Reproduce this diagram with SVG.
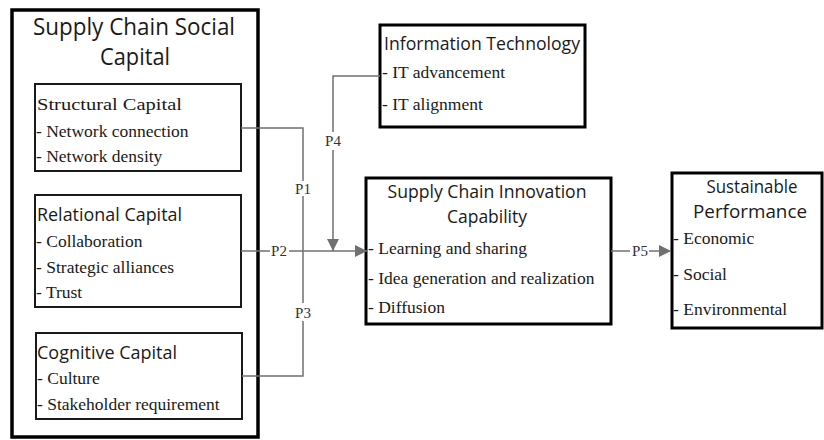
<svg xmlns="http://www.w3.org/2000/svg" width="824" height="440" viewBox="0 0 824 440">
<defs>
<style>
.outer{fill:#fff;stroke:#000;stroke-width:3.5}
.box{fill:#fff;stroke:#1a1a1a;stroke-width:2}
.bbox{fill:#fff;stroke:#000;stroke-width:3}
.sans{font-family:"Open Sans","Noto Sans",sans-serif;fill:#1a1a1a}
.serif{font-family:"Liberation Serif","Times New Roman",serif;fill:#1a1a1a;font-size:17.5px}
.h{font-size:18px}
.lbl{font-family:"Liberation Serif","Times New Roman",serif;fill:#333;font-size:15px;text-anchor:middle}
.ln{fill:none;stroke:#707070;stroke-width:1.5}
</style>
<marker id="arr" markerUnits="userSpaceOnUse" markerWidth="14" markerHeight="12" refX="12" refY="6" orient="auto">
<path d="M0,0 L12,6 L0,12 Z" fill="#707070"/>
</marker>
</defs>
<rect width="824" height="440" fill="#fff"/>

<g id="supply-chain-social-capital">
<rect class="outer" x="12" y="10" width="246" height="427"/>
<text class="sans" x="134" y="35" font-size="23.5" text-anchor="middle" textLength="202" lengthAdjust="spacingAndGlyphs">Supply Chain Social</text>
<text class="sans" x="135" y="65" font-size="23.5" text-anchor="middle" textLength="70" lengthAdjust="spacingAndGlyphs">Capital</text>
</g>

<g id="structural-capital">
<rect class="box" x="35" y="84" width="206" height="87"/>
<text class="serif" x="37" y="110" font-size="20.5" textLength="145" lengthAdjust="spacingAndGlyphs">Structural Capital</text>
<text class="serif" x="36" y="137">- Network connection</text>
<text class="serif" x="36" y="162">- Network density</text>
</g>

<g id="relational-capital">
<rect class="box" x="35" y="195" width="206" height="112"/>
<text class="sans h" x="37" y="221" textLength="145" lengthAdjust="spacingAndGlyphs">Relational Capital</text>
<text class="serif" x="36" y="247">- Collaboration</text>
<text class="serif" x="36" y="273">- Strategic alliances</text>
<text class="serif" x="36" y="298">- Trust</text>
</g>

<g id="cognitive-capital">
<rect class="box" x="36" y="333" width="206" height="86"/>
<text class="sans h" x="37" y="359" textLength="140" lengthAdjust="spacingAndGlyphs">Cognitive Capital</text>
<text class="serif" x="37" y="384">- Culture</text>
<text class="serif" x="37" y="410">- Stakeholder requirement</text>
</g>

<g id="information-technology">
<rect class="bbox" x="380" y="25" width="205" height="102"/>
<text class="sans h" x="384" y="50" textLength="196" lengthAdjust="spacingAndGlyphs">Information Technology</text>
<text class="serif" x="382" y="78">- IT advancement</text>
<text class="serif" x="382" y="110">- IT alignment</text>
</g>

<g id="supply-chain-innovation-capability">
<rect class="bbox" x="366" y="178" width="245" height="146"/>
<text class="sans h" x="487" y="198" text-anchor="middle" textLength="199" lengthAdjust="spacingAndGlyphs">Supply Chain Innovation</text>
<text class="sans h" x="487" y="223" text-anchor="middle" textLength="80" lengthAdjust="spacingAndGlyphs">Capability</text>
<text class="serif" x="368" y="254">- Learning and sharing</text>
<text class="serif" x="368" y="284">- Idea generation and realization</text>
<text class="serif" x="368" y="313">- Diffusion</text>
</g>

<g id="sustainable-performance">
<rect class="bbox" x="672" y="173" width="150" height="155"/>
<text class="sans h" x="752" y="193" text-anchor="middle" textLength="91" lengthAdjust="spacingAndGlyphs">Sustainable</text>
<text class="sans h" x="750" y="218" text-anchor="middle" textLength="114" lengthAdjust="spacingAndGlyphs">Performance</text>
<text class="serif" x="673" y="244">- Economic</text>
<text class="serif" x="673" y="280">- Social</text>
<text class="serif" x="673" y="315">- Environmental</text>
</g>

<g id="connectors">
<path class="ln" d="M241,128 H303 V181"/>
<path class="ln" d="M303,196 V303"/>
<path class="ln" d="M242,376 H303 V321"/>
<path class="ln" d="M241,251 H270"/>
<path class="ln" d="M289,251 H367" marker-end="url(#arr)"/>
<path class="ln" d="M380,76 H333 V132"/>
<path class="ln" d="M333,150 V251" marker-end="url(#arr)"/>
<path class="ln" d="M611,251 H630"/>
<path class="ln" d="M649,251 H671" marker-end="url(#arr)"/>
<text class="lbl" x="303" y="194">P1</text>
<text class="lbl" x="279" y="256">P2</text>
<text class="lbl" x="303" y="318">P3</text>
<text class="lbl" x="333" y="146">P4</text>
<text class="lbl" x="640" y="256">P5</text>
</g>
</svg>
